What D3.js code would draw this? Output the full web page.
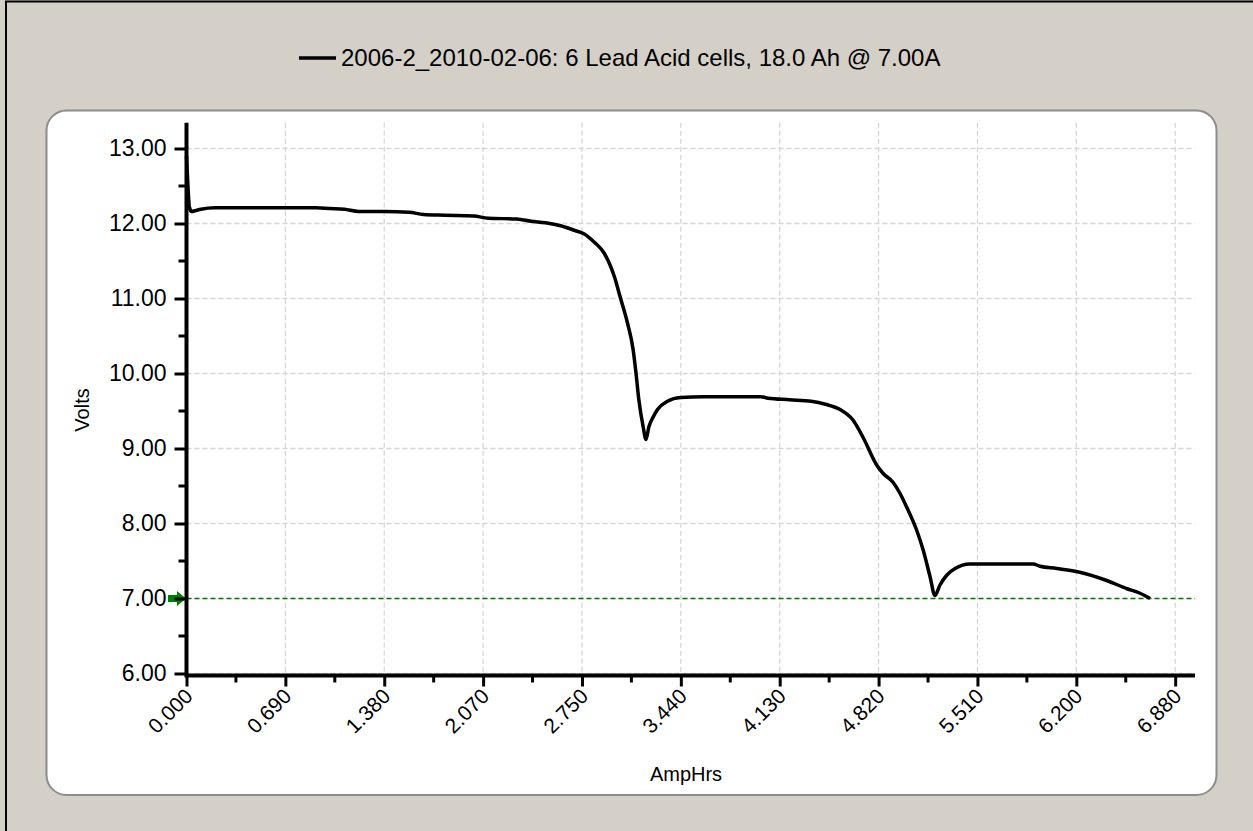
<!DOCTYPE html>
<html>
<head>
<meta charset="utf-8">
<script src="https://cdn.jsdelivr.net/npm/d3@7"></script>
<style>
  body { margin: 0; background: #d4d0c8; }
  svg { display: block; font-family: 'Liberation Sans', Arial, sans-serif; }
</style>
</head>
<body>
<svg id="canvas" width="1253" height="831"></svg>
<script>
// series: AmpHrs vs Volts
let ampHrs = [0.000, 0.010, 0.020, 0.035, 0.060, 0.100, 0.200, 0.500, 0.900, 1.000, 1.100, 1.200, 1.380, 1.550, 1.650, 1.800, 2.000, 2.100, 2.300, 2.400, 2.500, 2.606, 2.700, 2.770, 2.840, 2.910, 2.980, 3.020, 3.070, 3.110, 3.130, 3.150, 3.180, 3.200, 3.220, 3.250, 3.280, 3.350, 3.440, 3.600, 4.000, 4.050, 4.200, 4.350, 4.450, 4.551, 4.641, 4.711, 4.806, 4.850, 4.920, 4.969, 5.015, 5.085, 5.131, 5.178, 5.212, 5.247, 5.294, 5.352, 5.456, 5.895, 5.944, 6.060, 6.220, 6.408, 6.550, 6.640, 6.710]
let volts = [12.90, 12.50, 12.22, 12.16, 12.17, 12.19, 12.21, 12.21, 12.21, 12.20, 12.19, 12.16, 12.16, 12.15, 12.12, 12.11, 12.10, 12.07, 12.06, 12.03, 12.01, 11.97, 11.91, 11.86, 11.75, 11.60, 11.29, 11.02, 10.68, 10.32, 10.01, 9.65, 9.29, 9.12, 9.29, 9.42, 9.52, 9.63, 9.68, 9.69, 9.69, 9.67, 9.65, 9.63, 9.59, 9.52, 9.38, 9.15, 8.78, 8.67, 8.55, 8.40, 8.22, 7.91, 7.64, 7.29, 7.04, 7.18, 7.31, 7.40, 7.46, 7.46, 7.43, 7.40, 7.35, 7.24, 7.13, 7.07, 7.00]

let xTickValues = [0, 0.6885, 1.377, 2.0655, 2.754, 3.4425, 4.131, 4.8195, 5.508, 6.1965, 6.885]
let xTickLabels = ['0.000', '0.690', '1.380', '2.070', '2.750', '3.440', '4.130', '4.820', '5.510', '6.200', '6.880']
let yTickValues = [6, 7, 8, 9, 10, 11, 12, 13]
let yTickLabels = ['6.00', '7.00', '8.00', '9.00', '10.00', '11.00', '12.00', '13.00']

let cutoffVolts = 7.00
let legendText = '2006-2_2010-02-06: 6 Lead Acid cells, 18.0 Ah @ 7.00A'

const canvas = d3.select('#canvas')

const plotLeft = 186.5
const plotRight = 1195
const plotTop = 122.7
const plotBottom = 673.5
const axisY = 675.5

const xScale = d3.scaleLinear().domain([0, 7.023]).range([plotLeft, plotRight])
const yScale = d3.scaleLinear().domain([6, 13.344]).range([plotBottom, plotTop])

// outer frame and panel
canvas.append('rect')
  .attr('x', 6).attr('y', 1.5)
  .attr('width', 1400).attr('height', 1000)
  .attr('fill', '#d4d0c8')
  .attr('stroke', '#000')
  .attr('stroke-width', 2)

canvas.append('rect')
  .attr('x', 46.5).attr('y', 110.5)
  .attr('width', 1170).attr('height', 684.5)
  .attr('rx', 20).attr('ry', 20)
  .attr('fill', '#fff')
  .attr('stroke', '#8c8c8c')
  .attr('stroke-width', 2)

// grid
let minorX = xTickValues.slice(0, -1).map((v, i) => (v + xTickValues[i + 1]) / 2)
let minorY = yTickValues.slice(0, -1).map(v => v + 0.5)

canvas.append('g')
  .selectAll('line')
  .data(xTickValues.slice(1))
  .enter()
  .append('line')
  .attr('x1', d => xScale(d)).attr('x2', d => xScale(d))
  .attr('y1', plotTop).attr('y2', axisY)
  .attr('stroke', '#d6d6d6')
  .attr('stroke-width', 1.3)
  .attr('stroke-dasharray', '5,3')

canvas.append('g')
  .selectAll('line')
  .data(yTickValues)
  .enter()
  .append('line')
  .attr('x1', plotLeft).attr('x2', plotRight)
  .attr('y1', d => yScale(d)).attr('y2', d => yScale(d))
  .attr('stroke', '#d6d6d6')
  .attr('stroke-width', 1.3)
  .attr('stroke-dasharray', '5,3')

// cutoff line
canvas.append('line')
  .attr('x1', plotLeft).attr('x2', plotRight)
  .attr('y1', yScale(cutoffVolts)).attr('y2', yScale(cutoffVolts))
  .attr('stroke', '#008000')
  .attr('stroke-width', 1.5)
  .attr('stroke-dasharray', '5,3')

let ay = yScale(cutoffVolts)
canvas.append('path')
  .attr('d', `M168,${ay - 3.5} L177,${ay - 3.5} L177,${ay - 7.5} L186,${ay} L177,${ay + 7.5} L177,${ay + 3.5} L168,${ay + 3.5} Z`)
  .attr('fill', '#008000')

// data line
let points = ampHrs.map((a, i) => [a, volts[i]])
let line = d3.line()
  .x(d => xScale(d[0]))
  .y(d => yScale(d[1]))
  .curve(d3.curveMonotoneX)

canvas.append('path')
  .datum(points)
  .attr('d', line)
  .attr('fill', 'none')
  .attr('stroke', '#000')
  .attr('stroke-width', 3.5)
  .attr('stroke-linejoin', 'round')

// axes
let xAxis = d3.axisBottom(xScale)
  .tickValues(xTickValues)
  .tickSize(11)
  .tickFormat((d, i) => xTickLabels[i])

let xg = canvas.append('g')
  .attr('transform', `translate(0,${axisY})`)
  .call(xAxis)
xg.select('.domain').attr('stroke', '#000').attr('stroke-width', 4)
  .attr('d', `M${plotLeft - 2},0H${plotRight}`)
xg.selectAll('.tick line').attr('stroke', '#000').attr('stroke-width', 3)
xg.selectAll('.tick text')
  .attr('font-size', 21)
  .attr('fill', '#000')
  .attr('text-anchor', 'end')
  .attr('dy', null)
  .attr('y', null)
  .attr('transform', 'translate(7,22) rotate(-45)')

xg.selectAll('.minor')
  .data(minorX)
  .enter()
  .append('line')
  .attr('class', 'minor')
  .attr('x1', d => xScale(d)).attr('x2', d => xScale(d))
  .attr('y1', 0).attr('y2', 7)
  .attr('stroke', '#000')
  .attr('stroke-width', 3)

let yAxis = d3.axisLeft(yScale)
  .tickValues(yTickValues)
  .tickSize(12)
  .tickPadding(8)
  .tickFormat((d, i) => yTickLabels[i])

let yg = canvas.append('g')
  .attr('transform', `translate(${plotLeft},0)`)
  .call(yAxis)
yg.select('.domain').attr('stroke', '#000').attr('stroke-width', 4)
  .attr('d', `M0,${plotTop}V${axisY}`)
yg.selectAll('.tick line').attr('stroke', '#000').attr('stroke-width', 3)
yg.selectAll('.tick text').attr('font-size', 23).attr('fill', '#000')

yg.selectAll('.minor')
  .data(minorY)
  .enter()
  .append('line')
  .attr('class', 'minor')
  .attr('x1', -8).attr('x2', 0)
  .attr('y1', d => yScale(d)).attr('y2', d => yScale(d))
  .attr('stroke', '#000')
  .attr('stroke-width', 3)

// axis titles
canvas.append('text')
  .attr('transform', 'translate(89,410) rotate(-90)')
  .attr('text-anchor', 'middle')
  .attr('font-size', 20)
  .text('Volts')

canvas.append('text')
  .attr('x', 686).attr('y', 781)
  .attr('text-anchor', 'middle')
  .attr('font-size', 20)
  .text('AmpHrs')

// legend
canvas.append('line')
  .attr('x1', 299).attr('x2', 336)
  .attr('y1', 58).attr('y2', 58)
  .attr('stroke', '#000')
  .attr('stroke-width', 3.5)

canvas.append('text')
  .attr('x', 341).attr('y', 66)
  .attr('font-size', 24)
  .text(legendText)
</script>
</body>
</html>
